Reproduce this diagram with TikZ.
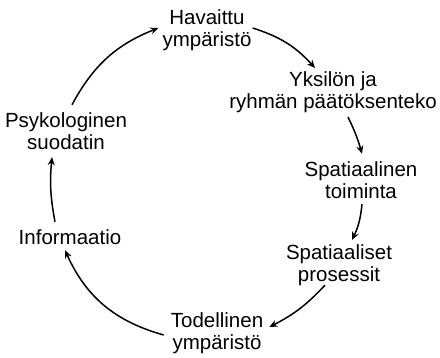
\documentclass[tikz,border=0pt]{standalone}
\usepackage{fontspec}
\setmainfont{Liberation Sans}
\usetikzlibrary{arrows.meta}
\begin{document}
\begin{tikzpicture}[x=1pt,y=1pt,
  lbl/.style={inner sep=0pt, align=center, font=\fontsize{20.5}{22}\selectfont},
  arr/.style={line width=1.5pt, -{Stealth[length=8pt,width=7pt]}}]
\useasboundingbox (0,0) rectangle (440,358);
\node[lbl] (hav) at (207,327.3) {Havaittu\\ympäristö};
\node[lbl] (yks) at (333,265.3) {Yksilön ja\\ryhmän päätöksenteko};
\node[lbl] (spa) at (361,177.5) {Spatiaalinen\\toiminta};
\node[lbl] (pro) at (339,92.3) {Spatiaaliset\\prosessit};
\node[lbl] (tod) at (217,24.3) {Todellinen\\ympäristö};
\node[lbl] (inf) at (70,120.5) {Informaatio};
\node[lbl] (psy) at (66,226.5) {Psykologinen\\suodatin};
\draw[arr] ([shift={(6,8)}]psy.north) to[bend left=20] ([shift={(-4,2.7)}]hav.west);
\draw[arr] ([shift={(1,2.7)}]hav.east) to[bend left=15] ([shift={(-18,4)}]yks.north);
\draw[arr] ([shift={(15,-3.6)}]yks.south) to[bend left=5] ([shift={(1,8)}]spa.north);
\draw[arr] ([shift={(1,-5)}]spa.south) to[bend left=10] ([shift={(13,5)}]pro.north);
\draw[arr] ([shift={(-14,1.3)}]pro.south) to[bend left=10] ([shift={(6,6.7)}]tod.east);
\draw[arr] ([shift={(-7,-1.3)}]tod.west) to[bend left=25] ([shift={(-5,-5)}]inf.south);
\draw[arr] ([shift={(-15,8)}]inf.north) to[bend left=8] ([shift={(-14,-7)}]psy.south);
\end{tikzpicture}
\end{document}
